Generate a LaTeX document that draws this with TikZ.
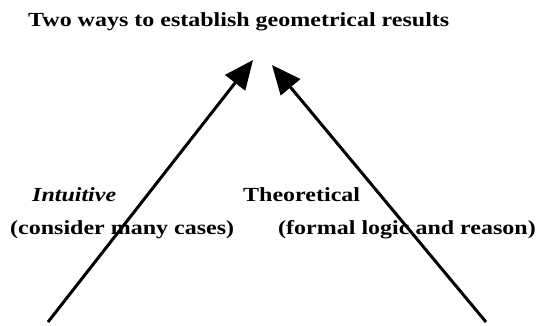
\documentclass[tikz,border=0pt]{standalone}
\usepackage{fontspec}
\setmainfont{Liberation Serif}[FakeStretch=1.2]
\usetikzlibrary{arrows.meta}
\begin{document}
\begin{tikzpicture}[x=1pt,y=-1pt,
  lbl/.style={anchor=base west,inner sep=0pt,font=\fontsize{20}{24}\selectfont\bfseries},
  arr/.style={line width=3pt,-{Triangle[length=29pt,width=25pt]}}]
\useasboundingbox (0,0) rectangle (549,325);
\node[lbl] (title) at (28,26) {Two ways to establish geometrical results};
\node[lbl,font=\fontsize{20}{24}\selectfont\bfseries\itshape] (intu) at (32,201) {Intuitive};
\node[lbl] (cons) at (10,234) {(consider many cases)};
\node[lbl] (theo) at (243,201) {Theoretical};
\node[lbl] (form) at (278,234) {(formal logic and reason)};
\coordinate (l0) at (48,322);
\coordinate (l1) at (253,60);
\coordinate (r0) at (486,322);
\coordinate (r1) at (272,65);
\draw[arr] (l0) -- (l1);
\draw[arr] (r0) -- (r1);
\end{tikzpicture}
\end{document}
